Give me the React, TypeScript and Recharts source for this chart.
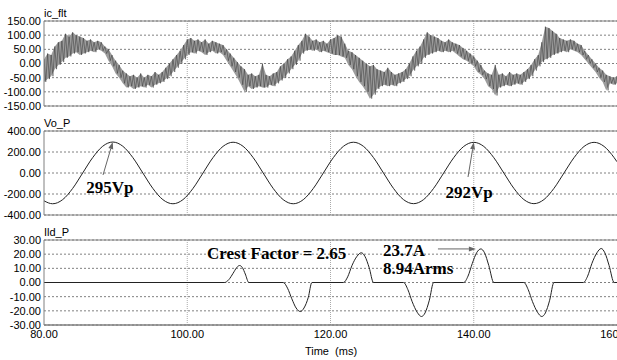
import { ComposedChart, LineChart, Line, Area, XAxis, YAxis, CartesianGrid, ReferenceLine, ReferenceDot } from 'recharts';

// time axis (ms)
const timeTicks = [80, 100, 120, 140, 160];
const timeGrid = [100, 120, 140];

// y ticks per panel
const icTicks = [150, 100, 50, 0, -50, -100, -150];
const voTicks = [400, 200, 0, -200, -400];
const ildTicks = [30, 20, 10, 0, -10, -20, -30];

// ic_flt: upper / lower ripple envelope every 0.5 ms from 80 ms
const icHigh = [
  15, 35, 30, 60, 75, 80, 105, 95, 110, 100,
  95, 90, 80, 85, 75, 80, 75, 60, 50, 30,
  10, -5, -25, -35, -45, -40, -50, -35, -50, -40,
  -45, -30, -40, -30, -15, 0, 15, 30, 45, 65,
  85, 90, 80, 85, 75, 85, 70, 80, 75, 70,
  65, 50, 35, 20, 5, -10, -20, -40, -35, -45,
  -40, 0, -40, -45, -35, -30, -10, 0, 15, 25,
  45, 65, 80, 105, 95, 80, 85, 75, 80, 70,
  85, 90, 100, 95, 70, 45, 40, 30, 20, 10,
  0, -10, -5, -20, -25, -30, -15, -30, -40, -35,
  -30, -20, 0, 25, 45, 60, 85, 110, 100, 95,
  90, 80, 75, 85, 75, 70, 65, 55, 45, 35,
  25, 10, -5, -25, -35, -40, -5, -40, -35, -45,
  -30, -40, -35, -40, -30, -20, -5, 15, 30, 75,
  130, 125, 115, 105, 90, 85, 80, 85, 80, 70,
  65, 45, 30, 15, 0, -15, -25, -40, -45, -50,
  -45,
];
const icLow = [
  -65, -55, -45, -20, -5, 5, 20, 25, 35, 40,
  30, 35, 40, 45, 40, 50, 45, 35, 10, -10,
  -35, -50, -70, -85, -80, -90, -85, -80, -85, -75,
  -85, -75, -70, -65, -55, -45, -30, -15, 0, 15,
  30, 40, 35, 45, 40, 30, 40, 45, 35, 40,
  30, 10, -10, -30, -50, -75, -100, -80, -90, -85,
  -80, -85, -85, -75, -80, -70, -60, -50, -35, -20,
  -5, 10, 35, 45, 50, 45, 50, 40, 45, 40,
  35, 30, 30, 25, 20, -5, -20, -45, -65, -80,
  -100, -124, -110, -90, -80, -75, -80, -75, -80, -70,
  -65, -55, -45, -25, -10, 0, 20, 30, 35, 40,
  45, 40, 45, 40, 45, 35, 25, 15, 10, 0,
  -10, -30, -40, -55, -80, -90, -113, -85, -80, -75,
  -80, -75, -70, -75, -65, -55, -45, -25, -10, 5,
  15, 20, 30, 35, 40, 45, 40, 50, 45, 40,
  30, 15, 0, -15, -30, -50, -65, -95, -70, -75,
  -70,
];

// Vo_P output voltage
const voTime = [
  80, 81.2, 82.6, 84.0, 85.4, 86.8, 88.2, 89.6, 91.0, 92.4, 93.8, 95.2, 96.6, 98.0, 99.4,
  100.8, 102.2, 103.6, 105.0, 106.4, 107.8, 109.2, 110.6, 112.0, 113.4, 114.8, 116.2, 117.6, 119.0,
  120.4, 121.8, 123.2, 124.6, 126.0, 127.4, 128.8, 130.2, 131.6, 133.0, 134.4, 135.8, 137.2, 138.6,
  140.0, 141.4, 142.8, 144.2, 145.6, 147.0, 148.4, 149.8, 151.2, 152.6, 154.0, 155.4, 156.8, 158.2,
  159.6, 160,
];
const voValue = [
  -265, -293, -254, -147, 0, 147, 255, 295, 255, 147, 0, -147, -254, -293, -254,
  -147, 0, 147, 254, 293, 254, 147, 0, -147, -254, -293, -254, -147, 0,
  147, 254, 293, 254, 147, 0, -147, -254, -292, -253, -146, 0, 146, 253,
  292, 253, 146, 0, -146, -253, -292, -253, -146, 0, 146, 253, 292, 253,
  146, 107,
];

// Ild_P diode current pulses
const ildTime = [
  80,
  105.2, 105.8, 106.4, 106.9, 107.3, 107.7, 108.1, 108.6,
  113.4, 114.0, 114.6, 115.2, 115.8, 116.3, 116.9, 117.4,
  121.8, 122.4, 123.0, 123.7, 124.3, 124.8, 125.4, 126.0,
  130.2, 130.8, 131.4, 132.1, 132.7, 133.2, 133.8, 134.4,
  138.6, 139.2, 139.8, 140.4, 141.0, 141.5, 142.1, 142.8,
  147.0, 147.6, 148.2, 148.9, 149.5, 150.0, 150.6, 151.2,
  155.3, 155.9, 156.5, 157.2, 157.8, 158.3, 158.9, 159.6,
  160,
];
const ildValue = [
  0,
  0, 2, 6.5, 10.5, 12, 10.5, 6, 0,
  0, -4, -11.5, -18, -20.5, -18, -10.5, 0,
  0, 4, 12, 18.5, 21, 18.5, 10.5, 0,
  0, -5, -13.5, -21, -24, -21.5, -12.5, 0,
  0, 4.5, 13.5, 21, 23.7, 21, 12, 0,
  0, -5, -13.5, -21, -24, -21.5, -12.5, 0,
  0, 4.5, 13.5, 21, 24, 21, 12, 0,
  0,
];

// ripple band plus the switching trace running between its edges
const icBand = icHigh.map((hi, i) => ({ t: 80 + i * 0.5, lo: icLow[i], hi }));
const icData: { t: number; v: number }[] = [];
icHigh.forEach((hi, i) => {
  const t = 80 + i * 0.5;
  icData.push({ t, v: hi });
  icData.push({ t: t + 0.25, v: icLow[i] });
});
const voData = voTime.map((t, i) => ({ t, v: voValue[i] }));
const ildData = ildTime.map((t, i) => ({ t, v: ildValue[i] }));

const sans = '"Liberation Sans", Arial, sans-serif';
const serif = '"Liberation Serif", "Times New Roman", serif';
const tickStyle = { fontFamily: sans, fontSize: 11, fill: '#000' };
const fmt = (v: number) => v.toFixed(2);
const W = 617;

function Arrow(props: any) {
  const { x1, y1, x2, y2 } = props;
  const len = Math.hypot(x2 - x1, y2 - y1) || 1;
  const ux = (x2 - x1) / len;
  const uy = (y2 - y1) / len;
  const bx = x2 - ux * 7;
  const by = y2 - uy * 7;
  const px = -uy * 2.5;
  const py = ux * 2.5;
  return (
    <g>
      <line x1={x1} y1={y1} x2={bx} y2={by} stroke="#666" strokeWidth={1} />
      <polygon points={`${x2},${y2} ${bx + px},${by + py} ${bx - px},${by - py}`} fill="#666" />
    </g>
  );
}

const note = (x: number, y: number, text: string, anchor: 'start' | 'middle' = 'start') => (
  <ReferenceDot
    x={x}
    y={y}
    r={0}
    shape={(p: any) => (
      <text x={p.cx} y={p.cy} textAnchor={anchor} fontFamily={serif} fontSize={17} fontWeight={700} fill="#000">
        {text}
      </text>
    )}
  />
);

function frame(ticks: number[]) {
  return [
    <CartesianGrid key="g" vertical={false} stroke="#808080" strokeDasharray="2 2" />,
    ...timeGrid.map((t) => <ReferenceLine key={'x' + t} x={t} stroke="#aaa" strokeDasharray="1 1" />),
    <ReferenceLine key="top" y={ticks[0]} stroke="#808080" />,
    <ReferenceLine key="bot" y={ticks[ticks.length - 1]} stroke="#808080" />,
  ];
}

function yAxis(ticks: number[]) {
  return (
    <YAxis
      type="number"
      domain={[ticks[ticks.length - 1], ticks[0]]}
      ticks={ticks}
      interval={0}
      width={44}
      tickFormatter={fmt}
      tick={tickStyle}
      tickLine={false}
      tickSize={0}
      tickMargin={3}
      axisLine={{ stroke: '#808080' }}
    />
  );
}

const titleStyle = (top: number): React.CSSProperties => ({
  position: 'absolute',
  left: 44,
  top,
  fontFamily: sans,
  fontSize: 11,
  lineHeight: '11px',
  color: '#000',
});

export default function App() {
  return (
    <div style={{ position: 'fixed', left: 0, top: 0, width: W, height: 360, overflow: 'hidden', background: '#fff' }}>
      <div style={titleStyle(8)}>ic_flt</div>
      <div style={titleStyle(118)}>Vo_P</div>
      <div style={titleStyle(227)}>Ild_P</div>

      <div style={{ position: 'absolute', left: 0, top: 0 }}>
        <ComposedChart width={W} height={116} margin={{ top: 21, right: 0, bottom: 10, left: 0 }}>
          {frame(icTicks)}
          <XAxis type="number" dataKey="t" domain={[80, 160]} hide allowDataOverflow />
          {yAxis(icTicks)}
          <Area
            data={icBand}
            type="linear"
            dataKey={(d: any) => [d.lo, d.hi]}
            stroke="none"
            fill="#9c9c9c"
            fillOpacity={1}
            isAnimationActive={false}
          />
          <Line data={icData} type="linear" dataKey="v" stroke="#333" strokeWidth={0.5} dot={false} isAnimationActive={false} />
        </ComposedChart>
      </div>

      <div style={{ position: 'absolute', left: 0, top: 115 }}>
        <LineChart width={W} height={110} data={voData} margin={{ top: 16, right: 0, bottom: 10, left: 0 }}>
          {frame(voTicks)}
          <XAxis type="number" dataKey="t" domain={[80, 160]} hide allowDataOverflow />
          {yAxis(voTicks)}
          <Line type="monotone" dataKey="v" stroke="#222" strokeWidth={1} dot={false} isAnimationActive={false} />
          <ReferenceLine segment={[{ x: 88.24, y: -19 }, { x: 89.6, y: 295 }]} shape={Arrow} />
          <ReferenceLine segment={[{ x: 139.2, y: -38 }, { x: 140.0, y: 292 }]} shape={Arrow} />
          {note(89.2, -190, '295Vp', 'middle')}
          {note(139.34, -238, '292Vp', 'middle')}
        </LineChart>
      </div>

      <div style={{ position: 'absolute', left: 0, top: 225 }}>
        <LineChart width={W} height={135} data={ildData} margin={{ top: 15, right: 0, bottom: 0, left: 0 }}>
          {frame(ildTicks)}
          <XAxis
            type="number"
            dataKey="t"
            domain={[80, 160]}
            ticks={timeTicks}
            interval={0}
            height={35}
            tickFormatter={fmt}
            tick={tickStyle}
            tickLine={false}
            tickSize={0}
            tickMargin={5}
            axisLine={{ stroke: '#808080' }}
            allowDataOverflow
          />
          {yAxis(ildTicks)}
          <Line type="monotone" dataKey="v" stroke="#222" strokeWidth={1} dot={false} isAnimationActive={false} />
          <ReferenceLine segment={[{ x: 135.0, y: 23.7 }, { x: 140.3, y: 23.7 }]} shape={Arrow} />
          {note(102.76, 16.9, 'Crest Factor = 2.65')}
          {note(127.33, 18.7, '23.7A')}
          {note(127.33, 5.9, '8.94Arms')}
        </LineChart>
      </div>

      <div
        style={{
          position: 'absolute',
          left: 331,
          top: 346,
          transform: 'translateX(-50%)',
          fontFamily: sans,
          fontSize: 11,
          lineHeight: '11px',
          whiteSpace: 'pre',
          color: '#000',
        }}
      >
        {'Time  (ms)'}
      </div>
    </div>
  );
}
